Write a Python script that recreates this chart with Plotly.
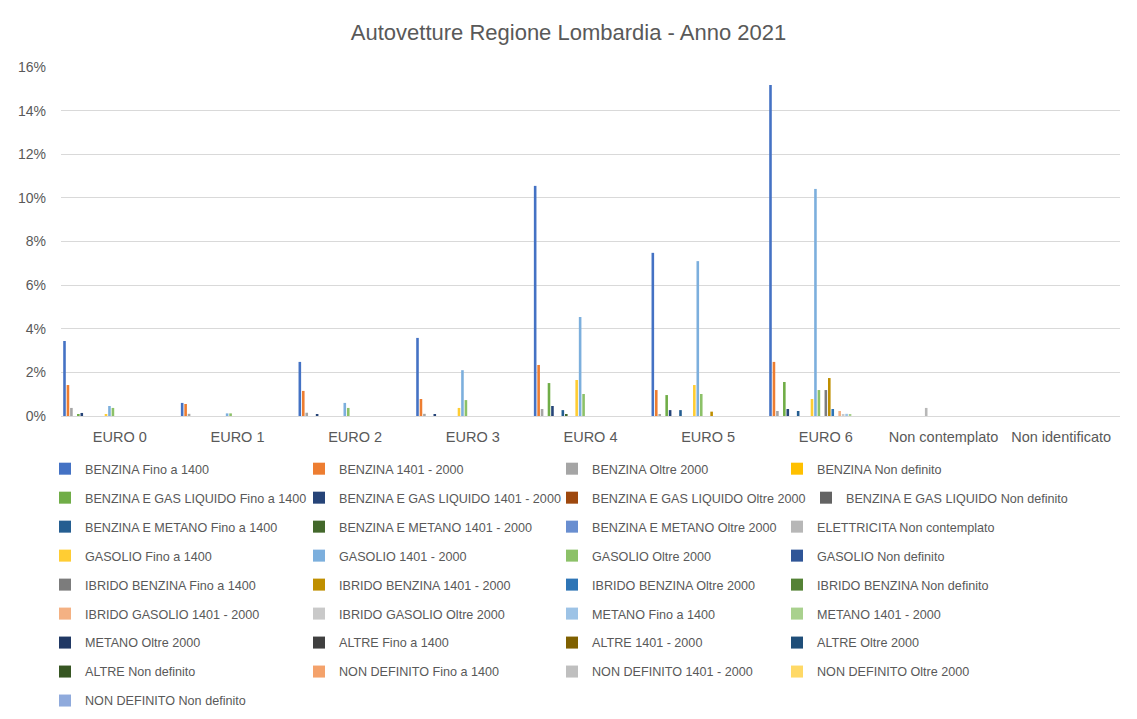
import plotly.graph_objects as go

categories = ["EURO 0", "EURO 1", "EURO 2", "EURO 3", "EURO 4", "EURO 5", "EURO 6",
              "Non contemplato", "Non identificato"]

series_names = [
    "BENZINA Fino a 1400", "BENZINA 1401 - 2000", "BENZINA Oltre 2000", "BENZINA Non definito",
    "BENZINA E GAS LIQUIDO Fino a 1400", "BENZINA E GAS LIQUIDO 1401 - 2000",
    "BENZINA E GAS LIQUIDO Oltre 2000", "BENZINA E GAS LIQUIDO Non definito",
    "BENZINA E METANO Fino a 1400", "BENZINA E METANO 1401 - 2000",
    "BENZINA E METANO Oltre 2000", "ELETTRICITA Non contemplato",
    "GASOLIO Fino a 1400", "GASOLIO 1401 - 2000", "GASOLIO Oltre 2000", "GASOLIO Non definito",
    "IBRIDO BENZINA Fino a 1400", "IBRIDO BENZINA 1401 - 2000", "IBRIDO BENZINA Oltre 2000",
    "IBRIDO BENZINA Non definito",
    "IBRIDO GASOLIO 1401 - 2000", "IBRIDO GASOLIO Oltre 2000", "METANO Fino a 1400",
    "METANO 1401 - 2000",
    "METANO Oltre 2000", "ALTRE Fino a 1400", "ALTRE 1401 - 2000", "ALTRE Oltre 2000",
    "ALTRE Non definito", "NON DEFINITO Fino a 1400", "NON DEFINITO 1401 - 2000",
    "NON DEFINITO Oltre 2000",
    "NON DEFINITO Non definito",
]

series_colors = [
    "#4472C4", "#ED7D31", "#A5A5A5", "#FFC000",
    "#70AD47", "#264478", "#9E480E", "#636363",
    "#255E91", "#43682B", "#698ED0", "#B7B7B7",
    "#FFCD33", "#7CAFDD", "#8CC168", "#2F5597",
    "#7C7C7C", "#BF8F00", "#2E75B6", "#548235",
    "#F4B183", "#C9C9C9", "#9DC3E6", "#A9D18E",
    "#203864", "#404040", "#7F6000", "#1F4E79",
    "#375623", "#F4A26B", "#BFBFBF", "#FFD966",
    "#8FAADC",
]

# Percent share per category, one value per series (same order as series_names)
euro0 = [3.44, 1.42, 0.37, 0, 0.09, 0.14, 0, 0, 0, 0, 0, 0, 0.05, 0.46, 0.37, 0,
         0, 0, 0, 0, 0, 0, 0, 0, 0, 0, 0, 0, 0, 0, 0, 0, 0]
euro1 = [0.60, 0.55, 0.10, 0, 0, 0, 0, 0, 0, 0, 0, 0, 0, 0.12, 0.12, 0,
         0, 0, 0, 0, 0, 0, 0, 0, 0, 0, 0, 0, 0, 0, 0, 0, 0]
euro2 = [2.48, 1.15, 0.15, 0, 0, 0.08, 0, 0, 0, 0, 0, 0, 0, 0.60, 0.37, 0,
         0, 0, 0, 0, 0, 0, 0, 0, 0, 0, 0, 0, 0, 0, 0, 0, 0]
euro3 = [3.58, 0.78, 0.10, 0, 0, 0.07, 0, 0, 0, 0, 0, 0, 0.37, 2.10, 0.73, 0,
         0, 0, 0, 0, 0, 0, 0, 0, 0, 0, 0, 0, 0, 0, 0, 0, 0]
euro4 = [10.55, 2.34, 0.32, 0, 1.51, 0.46, 0, 0, 0.27, 0.08, 0, 0, 1.65, 4.54, 1.01, 0,
         0, 0, 0, 0, 0, 0, 0, 0, 0, 0, 0, 0, 0, 0, 0, 0, 0]
euro5 = [7.48, 1.19, 0.09, 0, 0.96, 0.27, 0, 0, 0.27, 0, 0, 0, 1.42, 7.10, 1.01, 0,
         0, 0.20, 0, 0, 0, 0, 0, 0, 0, 0, 0, 0, 0, 0, 0, 0, 0]
euro6 = [15.18, 2.48, 0.23, 0, 1.56, 0.32, 0, 0, 0.23, 0, 0, 0, 0.78, 10.41, 1.19, 0,
         1.19, 1.74, 0.32, 0, 0.23, 0.05, 0.10, 0.05, 0, 0, 0, 0, 0, 0, 0, 0, 0]
non_contemplato = [0, 0, 0, 0, 0, 0, 0, 0, 0, 0, 0, 0.37, 0, 0, 0, 0,
                   0, 0, 0, 0, 0, 0, 0, 0, 0, 0, 0, 0, 0, 0, 0, 0, 0]
non_identificato = [0] * 33

rows = [euro0, euro1, euro2, euro3, euro4, euro5, euro6, non_contemplato, non_identificato]

W, H = 1137, 719
L, R, T, B = 61, 17, 67, 303
pw, ph = W - L - R, H - T - B

def px_x(x):
    return (x - L) / pw

def px_y(y):
    return (H - B - y) / ph

col_left = [45, 299, 552, 777]
legend_keys = ["legend", "legend2", "legend3", "legend4"]
legend_top = 454
row_step = 29

fig = go.Figure()
for i, name in enumerate(series_names):
    key = legend_keys[i % 4]
    if i == 7:
        # Excel shifts this entry right; keep an empty slot in column 4
        fig.add_trace(go.Scatter(
            x=[None], y=[None], name=" ", mode="markers",
            marker=dict(color="rgba(0,0,0,0)", size=1),
            legend="legend4", legendgroup="slot", hoverinfo="skip",
        ))
        key = "legend5"
    fig.add_trace(go.Bar(
        name=name,
        x=categories,
        y=[r[i] for r in rows],
        marker=dict(color=series_colors[i], line=dict(width=0)),
        legend=key,
        legendgroup="g%d" % i,
        hovertemplate="%{x}: %{y:.2f}%<extra>" + name + "</extra>",
    ))

font_color = "#595959"
legend_common = dict(
    orientation="v", xanchor="left", yanchor="top",
    font=dict(size=12.6, color=font_color, family="Liberation Sans"),
    tracegroupgap=9.6, bgcolor="rgba(0,0,0,0)", itemwidth=30,
)
layout_legends = {}
for k, key in enumerate(legend_keys):
    layout_legends[key] = dict(legend_common, x=px_x(col_left[k]), y=px_y(legend_top))
layout_legends["legend5"] = dict(legend_common, x=px_x(806), y=px_y(legend_top + row_step))

fig.update_layout(
    width=W, height=H,
    margin=dict(l=L, r=R, t=T, b=B, pad=0, autoexpand=False),
    paper_bgcolor="white", plot_bgcolor="white",
    barmode="group", bargap=0.03, bargroupgap=0.25,
    title=dict(text="Autovetture Regione Lombardia - Anno 2021", x=0.5, xanchor="center",
               y=1 - 32 / H, yanchor="middle", yref="container",
               font=dict(size=22, color=font_color, family="Liberation Sans")),
    font=dict(family="Liberation Sans", color=font_color, size=13),
    showlegend=True,
    **layout_legends,
)
fig.update_yaxes(range=[0, 16], dtick=2, ticksuffix="%", showgrid=True, gridcolor="#D9D9D9",
                 gridwidth=1, zeroline=False, showline=False, ticks="",
                 ticklabelstandoff=14,
                 tickfont=dict(size=14, color=font_color))
fig.update_xaxes(showline=True, linecolor="#D9D9D9", linewidth=1, ticks="",
                 ticklabelstandoff=8,
                 tickfont=dict(size=14.5, color=font_color))

fig.write_html("out.html", post_script="document.body.style.margin='0';",
               config={"displayModeBar": False})
